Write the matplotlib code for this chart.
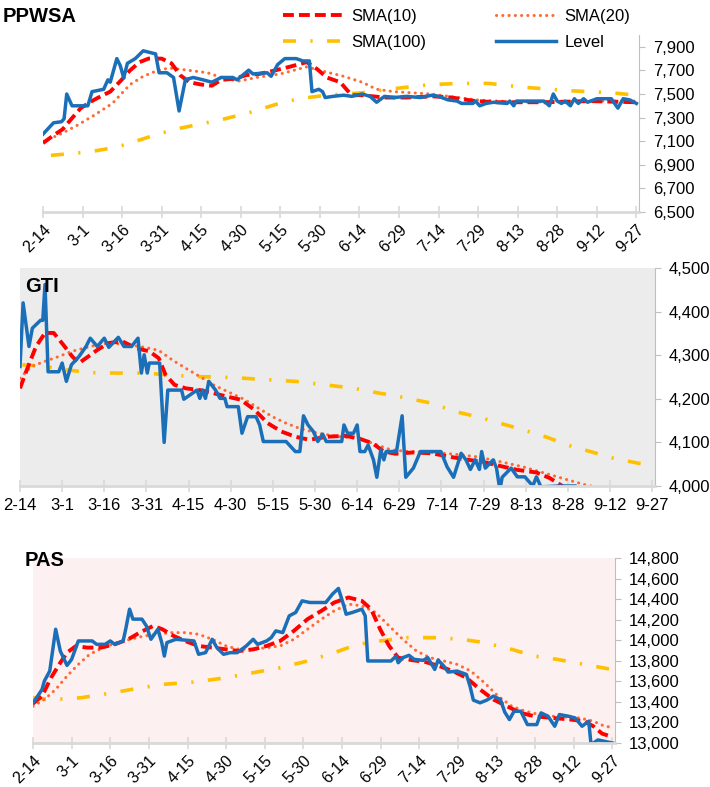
import matplotlib.pyplot as plt
from matplotlib.ticker import FuncFormatter

plt.rcParams["font.family"] = ["Liberation Sans", "DejaVu Sans"]

# x axis: days after 2-14, one tick label every 15 days
date_labels = ["2-14", "3-1", "3-16", "3-31", "4-15", "4-30", "5-15", "5-30",
               "6-14", "6-29", "7-14", "7-29", "8-13", "8-28", "9-12", "9-27"]

# ---------------- PPWSA ----------------
ppwsa_level_day = [0, 4, 7, 8, 9, 11, 17, 18.6, 23, 24.6, 25.5, 28, 29.3, 30.6, 32, 35, 38, 42.7,
                   44, 47, 49.5, 51.6, 54, 57, 60.7, 64, 67.6, 72, 73.6, 78, 79.6, 85, 86.5, 89,
                   91.7, 96, 98.6, 101, 102, 104.6, 106, 107, 110, 114, 117, 121, 124, 126.5,
                   129.5, 133, 138, 143, 147.6, 150, 153.6, 157, 158.7, 163, 164, 165.6, 168,
                   170.8, 176, 177, 178.5, 179.5, 185, 190, 192, 193.5, 195, 196.6, 198, 200,
                   201.5, 203, 205, 206.5, 210, 215.5, 218, 220, 222.5, 225]
ppwsa_level = [7160, 7256, 7265, 7290, 7500, 7400, 7400, 7520, 7540, 7620, 7600, 7800, 7740,
               7637, 7760, 7800, 7866, 7840, 7680, 7680, 7640, 7356, 7622, 7640, 7620, 7600,
               7640, 7640, 7620, 7702, 7670, 7680, 7650, 7750, 7800, 7800, 7780, 7780, 7520,
               7540, 7520, 7470, 7480, 7490, 7480, 7500, 7480, 7430, 7480, 7470, 7480, 7470,
               7490, 7480, 7450, 7440, 7420, 7420, 7440, 7400, 7420, 7430, 7420, 7440, 7400,
               7440, 7440, 7440, 7400, 7500, 7440, 7420, 7440, 7400, 7460, 7420, 7460, 7430,
               7460, 7460, 7380, 7460, 7450, 7420]

ppwsa_sma10_day = [0, 4, 7.4, 10.8, 14.3, 17.7, 21, 25.5, 29.8, 33, 36.6, 40, 45, 48.7, 52,
                   55.5, 60, 64, 67.6, 72.8, 77, 82, 88, 93.4, 100, 104, 107.6, 112.7, 117,
                   121, 129.5, 138, 148, 155, 164, 172.5, 190, 207, 225]
ppwsa_sma10 = [7084, 7150, 7200, 7290, 7380, 7430, 7470, 7520, 7620, 7700, 7770, 7800, 7800,
               7760, 7660, 7600, 7580, 7570, 7620, 7630, 7660, 7670, 7700, 7730, 7770, 7710,
               7640, 7600, 7490, 7490, 7470, 7470, 7480, 7470, 7440, 7430, 7430, 7440, 7430]

ppwsa_sma20_day = [0, 5.7, 12.6, 19.4, 26.3, 33, 38, 43.5, 47.8, 52, 62.4, 69, 74.5, 81, 90,
                   100, 105, 114, 121, 126.5, 133, 147, 164, 181, 207, 225]
ppwsa_sma20 = [7100, 7150, 7230, 7320, 7420, 7580, 7650, 7700, 7720, 7710, 7680, 7630, 7610,
               7640, 7670, 7730, 7700, 7650, 7600, 7540, 7520, 7500, 7450, 7430, 7440, 7440]

ppwsa_sma100_day = [3, 17.7, 28, 36.6, 43.5, 52, 60.7, 69, 79.6, 88, 97, 107.6, 121, 131,
                    147, 159, 169, 181, 198, 215.5, 225]
ppwsa_sma100 = [6980, 7010, 7050, 7110, 7160, 7210, 7250, 7290, 7350, 7410, 7460, 7490, 7510,
                7540, 7580, 7590, 7590, 7560, 7530, 7510, 7490]

# ---------------- GTI ----------------
gti_level_day = [0, 1.1, 3.2, 4.4, 7.3, 8.1, 8.9, 10, 13.8, 15, 16.5, 18.3, 21, 23.5, 25, 27.5,
                 30, 31.6, 35, 37, 39.7, 42, 43.2, 44.2, 45.3, 46, 49.7, 51.3, 52.6, 57.5, 58.3,
                 63, 64, 65, 66, 67.2, 69.6, 71.2, 72.9, 73.7, 77.7, 79, 81, 84, 85.3, 86.6,
                 94.7, 98, 99.6, 100.9, 102.5, 104.4, 106, 107.7, 109, 114.5, 115.3, 116.6,
                 118.7, 120, 121, 122.7, 123.9, 125.8, 127, 128.4, 129.5, 130.3, 134, 136,
                 137.3, 140, 142.5, 149.8, 152, 154.3, 157, 158.7, 160.3, 162, 163.5, 164.3,
                 165.6, 168.4, 169.6, 170.8, 171.6, 174.8, 177, 179.7, 182.5, 183.8, 185.4,
                 192, 197.5]
gti_level = [4274, 4420, 4320, 4362, 4380, 4380, 4462, 4262, 4262, 4282, 4240, 4278, 4297, 4320,
             4339, 4320, 4339, 4318, 4341, 4320, 4320, 4339, 4259, 4301, 4259, 4282, 4282, 4100,
             4220, 4220, 4199, 4220, 4201, 4220, 4201, 4240, 4220, 4201, 4201, 4182, 4182, 4121,
             4159, 4159, 4140, 4102, 4102, 4079, 4079, 4161, 4140, 4125, 4102, 4119, 4102, 4102,
             4140, 4121, 4121, 4140, 4079, 4079, 4094, 4060, 4020, 4083, 4060, 4079, 4079, 4161,
             4020, 4041, 4079, 4079, 4044, 4020, 4075, 4060, 4038, 4060, 4038, 4079, 4041, 4060,
             4041, 3991, 4020, 4041, 4021, 4021, 4000, 4021, 3998, 4000, 4000]

gti_sma10_day = [0, 2.4, 5.7, 8.9, 12, 15.4, 18.6, 21, 24.3, 27.5, 31.6, 36.4, 41.3, 46, 49.4,
                 51.8, 55, 59, 64, 68.8, 73.7, 78.5, 83.4, 88.2, 93, 98, 103, 109.3, 115.8,
                 120.6, 125.5, 129.5, 133.6, 140, 146.5, 153, 159.5, 164.3, 170.8, 177, 183.8,
                 188.6, 191.8, 193.5]
gti_sma10 = [4224, 4266, 4320, 4351, 4351, 4324, 4297, 4282, 4297, 4312, 4328, 4332, 4316, 4309,
             4293, 4255, 4232, 4224, 4220, 4213, 4205, 4198, 4175, 4144, 4125, 4113, 4106, 4113,
             4115, 4109, 4098, 4079, 4074, 4077, 4075, 4067, 4060, 4056, 4046, 4037, 4031, 4018,
             4005, 3998]

gti_sma20_day = [0, 4, 8.9, 13.8, 18.6, 25, 31.6, 38, 44.5, 49.4, 54.2, 59, 64, 68.8, 73.7, 80,
                 85, 89.8, 94.7, 99.6, 106, 114, 120.6, 125.5, 132, 138.4, 146.5, 154.6, 162.7,
                 170.8, 179, 187, 195, 201.6, 204.8]
gti_sma20 = [4247, 4274, 4286, 4297, 4309, 4320, 4328, 4324, 4318, 4311, 4289, 4270, 4251, 4232,
             4217, 4198, 4178, 4159, 4144, 4132, 4121, 4113, 4109, 4098, 4083, 4079, 4077, 4073,
             4067, 4056, 4044, 4029, 4014, 4002, 3998]

gti_sma100_day = [0.8, 9, 17, 25, 35, 44.5, 52.6, 62, 70.4, 80, 90, 98, 106, 119, 127, 135,
                  146.5, 154.6, 162.7, 170.8, 179, 187, 196.7, 203, 211, 221]
gti_sma100 = [4278, 4274, 4266, 4260, 4259, 4259, 4255, 4251, 4250, 4247, 4243, 4240, 4234, 4224,
              4214, 4205, 4190, 4171, 4159, 4144, 4129, 4113, 4090, 4079, 4064, 4051]

# ---------------- PAS ----------------
pas_level_day = [0, 1.8, 3.5, 4.4, 6.5, 8.8, 10.6, 13.2, 15, 17.6, 23, 24.7, 28, 30, 31.7, 35,
                 36, 37.5, 38.8, 42.3, 44, 45.8, 48.5, 50, 51, 52, 55.5, 62.5, 64.3, 67, 69.6,
                 71.4, 74, 76.6, 79.3, 82.8, 85.5, 87.2, 90.7, 92.5, 94.3, 97, 99.5, 102, 104.5,
                 107.5, 113.7, 116.3, 118.6, 120.7, 121.6, 124, 127.7, 129, 130, 139, 141, 141.8,
                 143.6, 146, 148, 151.5, 153.3, 156, 157.3, 159.5, 161.2, 164.7, 168.3, 169.7,
                 171, 173.6, 176.2, 178.8, 181.5, 183.2, 185, 186.8, 189.4, 192, 195.6, 197.3,
                 200, 202.6, 204.4, 208, 210.5, 213.2, 215.8, 216.7, 219.4, 225]
pas_level = [13391, 13456, 13521, 13602, 13700, 14107, 13895, 13755, 13814, 13993, 13993, 13960,
             13960, 13993, 13960, 13993, 14107, 14302, 14205, 14205, 14140, 14009, 14107, 13977,
             13846, 13977, 14009, 13993, 13863, 13879, 14009, 13928, 13863, 13879, 13879, 13944,
             14009, 13960, 13993, 14025, 14091, 14074, 14237, 14270, 14383, 14367, 14367, 14449,
             14504, 14335, 14253, 14270, 14302, 14237, 13798, 13798, 13846, 13781, 13830, 13853,
             13814, 13804, 13830, 13716, 13807, 13749, 13690, 13700, 13667, 13553, 13417, 13391,
             13417, 13456, 13423, 13300, 13228, 13309, 13309, 13179, 13179, 13293, 13260, 13163,
             13277, 13260, 13244, 13163, 13212, 12984, 13030, 13000]

pas_sma10_day = [0, 3.5, 7, 10.6, 13.2, 16.7, 21, 26.4, 31.7, 37, 41.4, 46.7, 50.2, 54.6, 59,
                 64.3, 69.6, 75, 80, 85.5, 90.7, 96, 101.3, 106.6, 112, 117, 122.5, 127.7, 131.3,
                 134.8, 138.3, 141.8, 147, 152.4, 157.7, 163, 168.3, 173.6, 178.8, 184, 189.4,
                 194.7, 201.8, 208.8, 214, 217.6, 221, 225]
pas_sma10 = [13384, 13456, 13635, 13781, 13879, 13944, 13928, 13928, 13960, 14009, 14074, 14139,
             14107, 14042, 13993, 13944, 13928, 13911, 13895, 13911, 13944, 13993, 14091, 14205,
             14286, 14367, 14416, 14383, 14302, 14107, 13944, 13830, 13807, 13788, 13749, 13700,
             13635, 13521, 13423, 13358, 13293, 13260, 13244, 13228, 13212, 13163, 13091, 13059]

pas_sma20_day = [0, 4.4, 8.8, 13.2, 17.6, 22, 27.3, 32.6, 37.9, 43.2, 48.5, 53.7, 59, 64.3,
                 69.6, 75, 80, 85.5, 90.7, 96, 101.3, 106.6, 112, 117, 122.5, 127.7, 133, 138.3,
                 143.6, 148.9, 154.2, 159.5, 164.7, 170, 175.3, 180.6, 185.9, 191.2, 198.2,
                 205.3, 212.3, 217.6, 222, 225]
pas_sma20 = [13358, 13423, 13521, 13651, 13765, 13863, 13928, 13977, 14009, 14042, 14058, 14074,
             14074, 14058, 14009, 13944, 13911, 13911, 13928, 13944, 14009, 14107, 14205, 14286,
             14351, 14335, 14270, 14139, 14009, 13895, 13830, 13798, 13765, 13700, 13586, 13456,
             13358, 13309, 13267, 13254, 13244, 13212, 13163, 13153]

pas_sma100_day = [0, 7.9, 18.5, 30.8, 39.6, 50.2, 62.5, 75, 85.5, 96, 106.6, 117, 126, 134.8,
                  145.4, 156, 166.5, 175.3, 185.9, 194.7, 203.5, 214, 224.7]
pas_sma100 = [13440, 13423, 13440, 13488, 13527, 13570, 13593, 13635, 13684, 13732, 13798, 13879,
              13960, 13993, 14025, 14025, 14009, 13977, 13911, 13846, 13814, 13765, 13716]

# line styles (dash lengths in units of line width)
styles = {
    "sma10": dict(color="#ff0000", lw=2.8, ls=(0, (2.8, 1.3))),
    "sma20": dict(color="#ff6a33", lw=2.2, ls=(0, (0.05, 2.0)), dash_capstyle="round"),
    "sma100": dict(color="#ffc000", lw=2.6, ls=(0, (3.6, 4.0, 0.6, 4.0))),
    "level": dict(color="#1a6fb8", lw=2.5, ls="-"),
}

gray = "#d9d9d9"
thousands = FuncFormatter(lambda v, p: f"{v:,.0f}")


def draw_panel(ax, series, ylim, yticks, rotate, bg):
    for key, (d, v) in series.items():
        ax.plot(d, v, **styles[key])
    ax.set_facecolor(bg)
    ax.set_xlim(0, 226)
    ax.set_ylim(*ylim)
    ax.set_xticks([15 * i for i in range(len(date_labels))])
    if rotate:
        ax.set_xticklabels(date_labels, rotation=45, ha="right", rotation_mode="anchor",
                           fontsize=11.5)
    else:
        ax.set_xticklabels(date_labels, fontsize=12)
    ax.set_yticks(yticks)
    ax.yaxis.set_major_formatter(thousands)
    ax.yaxis.tick_right()
    for s in ["left", "top"]:
        ax.spines[s].set_visible(False)
    ax.spines["bottom"].set_color(gray)
    ax.spines["bottom"].set_linewidth(2)
    ax.spines["right"].set_color("#bfbfbf")
    ax.tick_params(axis="x", direction="inout", length=8, width=1.2, color=gray,
                   pad=3 if rotate else 5)
    ax.tick_params(axis="y", direction="out", length=4, color="#bfbfbf", labelsize=12, pad=6)


fig = plt.figure(figsize=(7.1, 7.87), dpi=100)
W, H = 710, 787


def add_ax(x0, x1, ytop, ybot):
    return fig.add_axes([x0 / W, 1 - ybot / H, (x1 - x0) / W, (ybot - ytop) / H])


ax1 = add_ax(43, 639, 35, 212)
draw_panel(ax1, {"sma100": (ppwsa_sma100_day, ppwsa_sma100),
                 "sma20": (ppwsa_sma20_day, ppwsa_sma20),
                 "sma10": (ppwsa_sma10_day, ppwsa_sma10),
                 "level": (ppwsa_level_day, ppwsa_level)},
           (6500, 8000), range(6500, 8000, 200), True, "white")

ax2 = add_ax(20, 655, 268, 486)
draw_panel(ax2, {"sma100": (gti_sma100_day, gti_sma100),
                 "sma20": (gti_sma20_day, gti_sma20),
                 "sma10": (gti_sma10_day, gti_sma10),
                 "level": (gti_level_day, gti_level)},
           (4000, 4500), range(4000, 4501, 100), False, "#ececec")

ax3 = add_ax(33, 615, 558, 743)
draw_panel(ax3, {"sma100": (pas_sma100_day, pas_sma100),
                 "sma20": (pas_sma20_day, pas_sma20),
                 "sma10": (pas_sma10_day, pas_sma10),
                 "level": (pas_level_day, pas_level)},
           (13000, 14800), range(13000, 14801, 200), True, "#fdf0f0")

fig.text(3 / W, 1 - 17 / H, "PPWSA", fontsize=14.5, fontweight="bold", va="center")
fig.text(25 / W, 1 - 287 / H, "GTI", fontsize=14.5, fontweight="bold", va="center")
fig.text(25 / W, 1 - 561 / H, "PAS", fontsize=14.5, fontweight="bold", va="center")

# legend: column-wise order gives rows SMA(10)/SMA(20) and SMA(100)/Level
handles = [plt.Line2D([], [], **styles[k]) for k in ["sma10", "sma100", "sma20", "level"]]
labels = ["SMA(10)", "SMA(100)", "SMA(20)", "Level"]
fig.legend(handles, labels, ncol=2, frameon=False, fontsize=12,
           loc="upper left", bbox_to_anchor=(276 / W, 1 - 2 / H),
           handlelength=3.6, handletextpad=0.5, columnspacing=4.2, labelspacing=0.7,
           borderaxespad=0)

fig.savefig("out.png", dpi=100)
